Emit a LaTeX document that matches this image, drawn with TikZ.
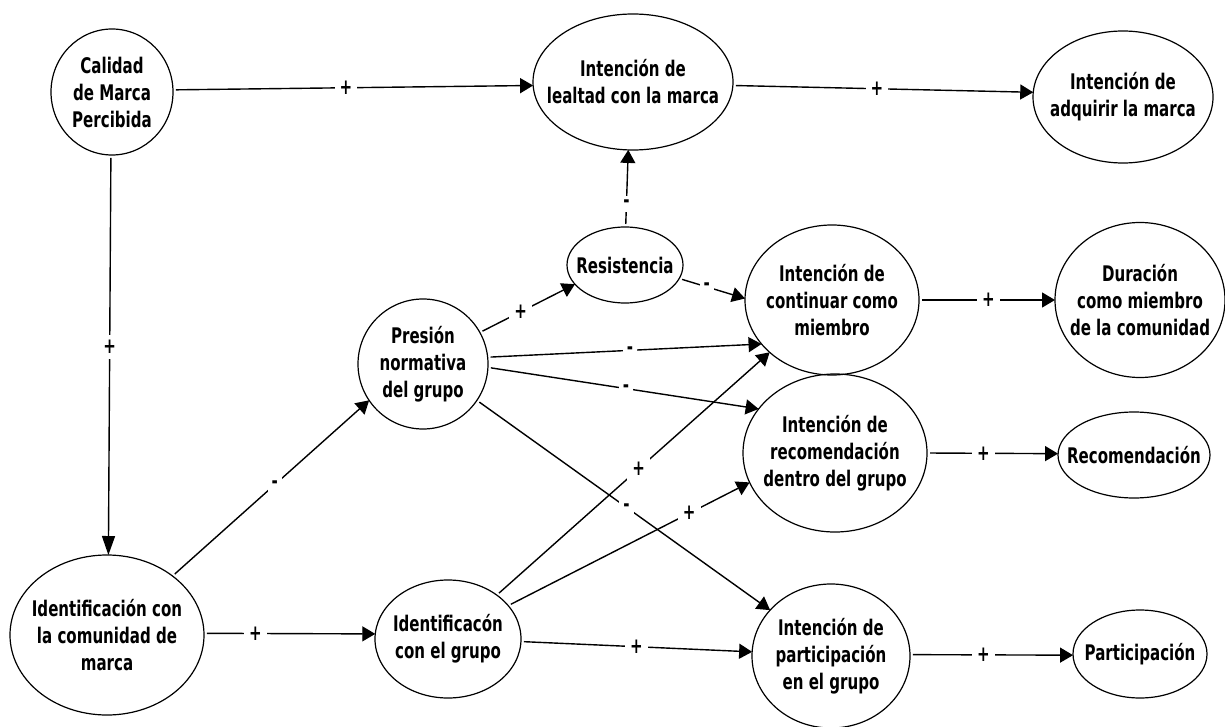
\documentclass[tikz,border=0pt]{standalone}
\usepackage{fontspec}
\newfontfamily\lblfont{DejaVu Sans}[FakeStretch=0.70]
\usetikzlibrary{shapes.geometric,arrows.meta}

\tikzset{
  blob/.style={draw, ellipse, line width=1.2pt, inner sep=0pt, outer sep=0pt},
  txt/.style={align=center, inner sep=0pt,
    font=\lblfont\bfseries\fontsize{21.5}{27}\selectfont},
  link/.style={line width=1.4pt, shorten <=3pt,
    -{Triangle[length=13pt,width=15pt]}},
  sign/.style={fill=white, inner sep=5pt,
    font=\lblfont\bfseries\fontsize{21.5}{24}\selectfont}
}

\begin{document}
\begin{tikzpicture}[x=1pt, y=-1pt]
\useasboundingbox (0,0) rectangle (1225,727);

% constructs
\node[blob, minimum width=122pt, minimum height=126pt,
  label={[txt]center:{Calidad\\de Marca\\Percibida}}] (cal) at (112,92) {};
\node[blob, minimum width=200pt, minimum height=136pt,
  label={[txt]center:{Intención de\\lealtad con la marca}}] (leal) at (633,82) {};
\node[blob, minimum width=180pt, minimum height=132pt,
  label={[txt]center:{Intención de\\adquirir la marca}}] (adq) at (1123,97) {};
\node[blob, minimum width=116pt, minimum height=76pt,
  label={[txt]center:{Resistencia}}] (res) at (625,265) {};
\node[blob, minimum width=174pt, minimum height=150pt,
  label={[txt]center:{Intención de\\continuar como\\miembro}}] (cont) at (832,300) {};
\node[blob, minimum width=170pt, minimum height=155pt,
  label={[txt]center:{Duración\\como miembro\\de la comunidad}}] (dur) at (1140,300) {};
\node[blob, minimum width=130pt, minimum height=130pt,
  label={[txt]center:{Presión\\normativa\\del grupo}}] (pres) at (423,364) {};
\node[blob, minimum width=184pt, minimum height=158pt,
  label={[txt]center:{Intención de\\recomendación\\dentro del grupo}}] (recint) at (835,453) {};
\node[blob, minimum width=152pt, minimum height=86pt,
  label={[txt]center:{Recomendación}}] (recom) at (1134,455) {};
\node[blob, minimum width=194pt, minimum height=160pt,
  label={[txt]center:{Identificación con\\la comunidad de\\marca}}] (idcom) at (107,635) {};
\node[blob, minimum width=146pt, minimum height=118pt,
  label={[txt]center:{Identificacón\\con el grupo}}] (idgr) at (448,639) {};
\node[blob, minimum width=158pt, minimum height=144pt,
  label={[txt]center:{Intención de\\participación\\en el grupo}}] (partint) at (831,656) {};
\node[blob, minimum width=134pt, minimum height=88pt,
  label={[txt]center:{Participación}}] (part) at (1140,654) {};

% paths between constructs
\draw[link] (cal.2) -- node[sign, pos=.48] {+} (leal.182);
\draw[link] (leal.358) -- node[sign, pos=.48] {+} (adq.177);
\draw[link, -{Triangle[length=19pt,width=13pt]}] (cal.269) -- node[sign, pos=.48] {+} (idcom.89);
\draw[link] (res.89) -- node[sign, pos=.3, inner sep=4pt] {-} (leal.266);
\draw[link] (pres.29) -- node[sign, pos=.43] {+} (res.201);
\draw[link] (res.346) -- node[sign, pos=.42, inner sep=4pt] {-} (cont.179);
\draw[link] (pres.6) -- node[sign, pos=.52, inner sep=4pt] {-} (cont.212);
\draw[link] (pres.357) -- node[sign, pos=.51, inner sep=4pt] {-} (recint.150);
\draw[link] (pres.326) -- node[sign, pos=.51, inner sep=4pt] {-} (partint.143);
\draw[link] (idgr.42) -- node[sign, pos=.52] {+} (cont.220);
\draw[link] (idgr.29) -- node[sign, pos=.75] {+} (recint.199);
\draw[link] (idgr.358) -- node[sign, pos=.5] {+} (partint.177);
\draw[link] (idcom.42) -- node[sign, pos=.52, inner sep=4pt] {-} (pres.214);
\draw[link] (idcom.1) -- node[sign, pos=.3] {+} (idgr.176);
\draw[link] (cont.0) -- node[sign, pos=.51] {+} (dur.180);
\draw[link] (recint.0) -- node[sign, pos=.43] {+} (recom.179);
\draw[link] (partint.1) -- node[sign, pos=.45] {+} (part.181);
\end{tikzpicture}
\end{document}
